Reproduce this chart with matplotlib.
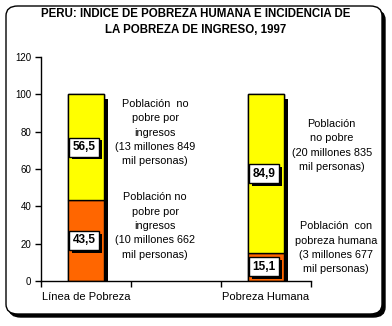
import matplotlib.pyplot as plt
import matplotlib.patheffects as pe
from matplotlib.patches import FancyBboxPatch

plt.rcParams['font.family'] = ['Liberation Sans', 'DejaVu Sans']

# datos
categorias = ['Línea de Pobreza', '', 'Pobreza Humana']
pobres = [43.5, None, 15.1]
no_pobres = [56.5, None, 84.9]
textos_arriba = ['Población  no\npobre por\ningresos\n(13 millones 849\nmil personas)',
                 'Población\nno pobre\n(20 millones 835\nmil personas)']
textos_abajo = ['Población no\npobre por\ningresos\n(10 millones 662\nmil personas)',
                'Población  con\npobreza humana\n(3 millones 677\nmil personas)']

amarillo = '#FFFF00'
naranja = '#FF6600'

fig = plt.figure(figsize=(3.92, 3.26), dpi=100)
W, H = 392, 326

# marco redondeado con sombra
sombra = FancyBboxPatch((9 / W, 9 / H), 376 / W, 307 / H,
                        boxstyle='round,pad=0,rounding_size=0.03',
                        transform=fig.transFigure, facecolor='black', edgecolor='black', lw=1, zorder=-2)
marco = FancyBboxPatch((6 / W, 12 / H), 376 / W, 308 / H,
                       boxstyle='round,pad=0,rounding_size=0.03',
                       transform=fig.transFigure, facecolor='white', edgecolor='black', lw=1, zorder=-1)
fig.patches.extend([sombra, marco])

fig.text(0.5, 1 - 8 / H, 'PERU: INDICE DE POBREZA HUMANA E INCIDENCIA DE\nLA POBREZA DE INGRESO, 1997',
         ha='center', va='top', fontsize=8.3, fontweight='bold', linespacing=1.45)

ax = fig.add_axes([41 / W, 1 - 281 / H, 270 / W, 224 / H])
ax.set_facecolor('none')

x = [0, 2]
abajo = [pobres[0], pobres[2]]
arriba = [no_pobres[0], no_pobres[2]]
totales = [a + b for a, b in zip(abajo, arriba)]

# sombra de la barra completa
bs = ax.bar(x, totales, width=0.4, color='black', edgecolor='black', linewidth=1, zorder=1)
for b in bs:
    b.set_path_effects([pe.SimplePatchShadow(offset=(3, -3), shadow_rgbFace='black', alpha=1), pe.Normal()])
ax.bar(x, abajo, width=0.4, color=naranja, edgecolor='black', linewidth=1, zorder=2)
ax.bar(x, arriba, width=0.4, bottom=abajo, color=amarillo, edgecolor='black', linewidth=1, zorder=2)

caja = dict(boxstyle='square,pad=0.3', facecolor='white', edgecolor='black', lw=1,
            path_effects=[pe.SimplePatchShadow(offset=(2, -2), shadow_rgbFace='black', alpha=1), pe.Normal()])
for i in range(2):
    ax.text(x[i] - 0.02, abajo[i] / 2, f'{abajo[i]:.1f}'.replace('.', ','), ha='center', va='center',
            fontsize=8.5, fontweight='bold', bbox=caja, zorder=4)
    ax.text(x[i] - 0.02, abajo[i] + arriba[i] / 2, f'{arriba[i]:.1f}'.replace('.', ','), ha='center',
            va='center', fontsize=8.5, fontweight='bold', bbox=caja, zorder=4)

# textos explicativos
estilo = dict(ha='center', va='center', fontsize=7.8, linespacing=1.55, clip_on=False)
ax.text(0.77, 79.5, textos_arriba[0], **estilo)
ax.text(0.77, 29.5, textos_abajo[0], **estilo)
ax.text(2.73, 72.5, textos_arriba[1], **estilo)
ax.text(2.78, 17.8, textos_abajo[1], **estilo)

ax.set_xlim(-0.5, 2.5)
ax.set_ylim(0, 120)
ax.set_yticks(range(0, 121, 20))
ax.set_xticks([-0.5, 0.5, 1.5, 2.5])
ax.set_xticklabels([])
ax.set_xticks([0, 2], minor=True)
ax.set_xticklabels([categorias[0], categorias[2]], minor=True)
ax.tick_params(axis='x', which='minor', length=0, pad=8, labelsize=8)
ax.tick_params(axis='x', which='major', length=4, width=1)
ax.tick_params(axis='y', length=4, width=1, labelsize=7, pad=3)
for s in ['top', 'right']:
    ax.spines[s].set_visible(False)
ax.spines['left'].set_linewidth(1)
ax.spines['bottom'].set_linewidth(1)

fig.savefig('out.png', dpi=100)
